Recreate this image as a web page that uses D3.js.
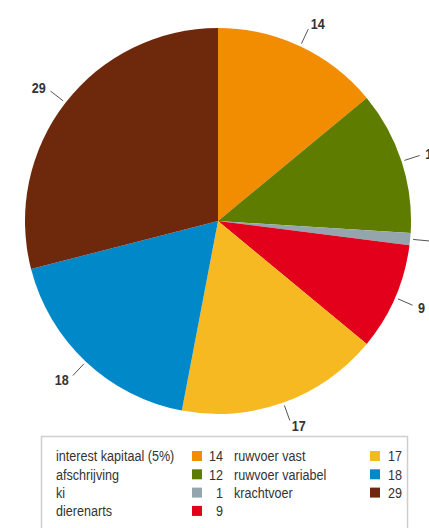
<!DOCTYPE html>
<html>
<head>
<meta charset="utf-8">
<script src="https://cdn.jsdelivr.net/npm/d3@7"></script>
<style>
  body { margin: 0; background: #fff; }
  svg { display: block; }
  text { font-family: "Liberation Sans Narrow", "Liberation Sans", "DejaVu Sans", sans-serif; font-stretch: condensed; fill: #333; }
</style>
</head>
<body>
<div id="chart"></div>
<script>
// kostenopbouw (procent)
const categories = ["interest kapitaal (5%)", "afschrijving", "ki", "dierenarts", "ruwvoer vast", "ruwvoer variabel", "krachtvoer"];
const values = [14, 12, 1, 9, 17, 18, 29];
const colors = ["#f28c00", "#5e7c00", "#95a5ae", "#e2001a", "#f6b922", "#0088c8", "#6e280c"];

const width = 429, height = 528;
const cx = 218, cy = 221, radius = 193;
const squeeze = 0.84; // no condensed font installed, so narrow the glyphs

const svg = d3.select("#chart").append("svg")
    .attr("width", width)
    .attr("height", height);

const data = categories.map((c, i) => ({ name: c, value: values[i], color: colors[i] }));

const pie = d3.pie()
    .sort(null)
    .value(d => d.value);

const arcs = pie(data);

const arc = d3.arc().innerRadius(0).outerRadius(radius);

const g = svg.append("g")
    .attr("transform", "translate(" + cx + "," + cy + ")");

g.selectAll("path.slice")
    .data(arcs)
    .enter().append("path")
    .attr("class", "slice")
    .attr("d", arc)
    .attr("fill", d => d.data.color);

// leader lines + labels
const lineStart = d3.arc().innerRadius(radius + 3).outerRadius(radius + 3);
const lineEnd = d3.arc().innerRadius(radius + 19).outerRadius(radius + 19);
const labelArc = d3.arc().innerRadius(radius + 25).outerRadius(radius + 25);

g.selectAll("line.leader")
    .data(arcs)
    .enter().append("line")
    .attr("class", "leader")
    .attr("x1", d => lineStart.centroid(d)[0])
    .attr("y1", d => lineStart.centroid(d)[1])
    .attr("x2", d => lineEnd.centroid(d)[0])
    .attr("y2", d => lineEnd.centroid(d)[1])
    .attr("stroke", "#555")
    .attr("stroke-width", 1);

g.selectAll("text.label")
    .data(arcs)
    .enter().append("text")
    .attr("class", "label")
    .attr("transform", d => {
        const p = labelArc.centroid(d);
        return "translate(" + p[0] + "," + p[1] + ") scale(" + squeeze + ",1)";
    })
    .attr("dy", "0.35em")
    .attr("text-anchor", d => {
        const s = Math.sin((d.startAngle + d.endAngle) / 2);
        return s > 0.3 ? "start" : (s < -0.3 ? "end" : "middle");
    })
    .style("font-size", "15px")
    .style("font-weight", "bold")
    .text(d => d.data.value);

// legend
const legend = svg.append("g");

legend.append("rect")
    .attr("x", 41.5)
    .attr("y", 436.5)
    .attr("width", 366)
    .attr("height", 110)
    .attr("fill", "none")
    .attr("stroke", "#cfcfcf")
    .attr("stroke-width", 1.5);

const perCol = 4;
const colX = [56, 234];
const swatchX = [192, 370];
const valX = [223, 402];
const rowY = d3.scaleLinear().domain([0, 1]).range([456, 474.3]);

const items = legend.selectAll("g.item")
    .data(data)
    .enter().append("g")
    .attr("class", "item");

items.append("text")
    .attr("transform", (d, i) => "translate(" + colX[Math.floor(i / perCol)] + "," + rowY(i % perCol) + ") scale(" + squeeze + ",1)")
    .attr("dy", "0.35em")
    .style("font-size", "15px")
    .text(d => d.name);

items.append("rect")
    .attr("x", (d, i) => swatchX[Math.floor(i / perCol)])
    .attr("y", (d, i) => rowY(i % perCol) - 5)
    .attr("width", 10)
    .attr("height", 10)
    .attr("fill", d => d.color);

items.append("text")
    .attr("transform", (d, i) => "translate(" + valX[Math.floor(i / perCol)] + "," + rowY(i % perCol) + ") scale(" + squeeze + ",1)")
    .attr("dy", "0.35em")
    .attr("text-anchor", "end")
    .style("font-size", "15px")
    .text(d => d.value);
</script>
</body>
</html>
